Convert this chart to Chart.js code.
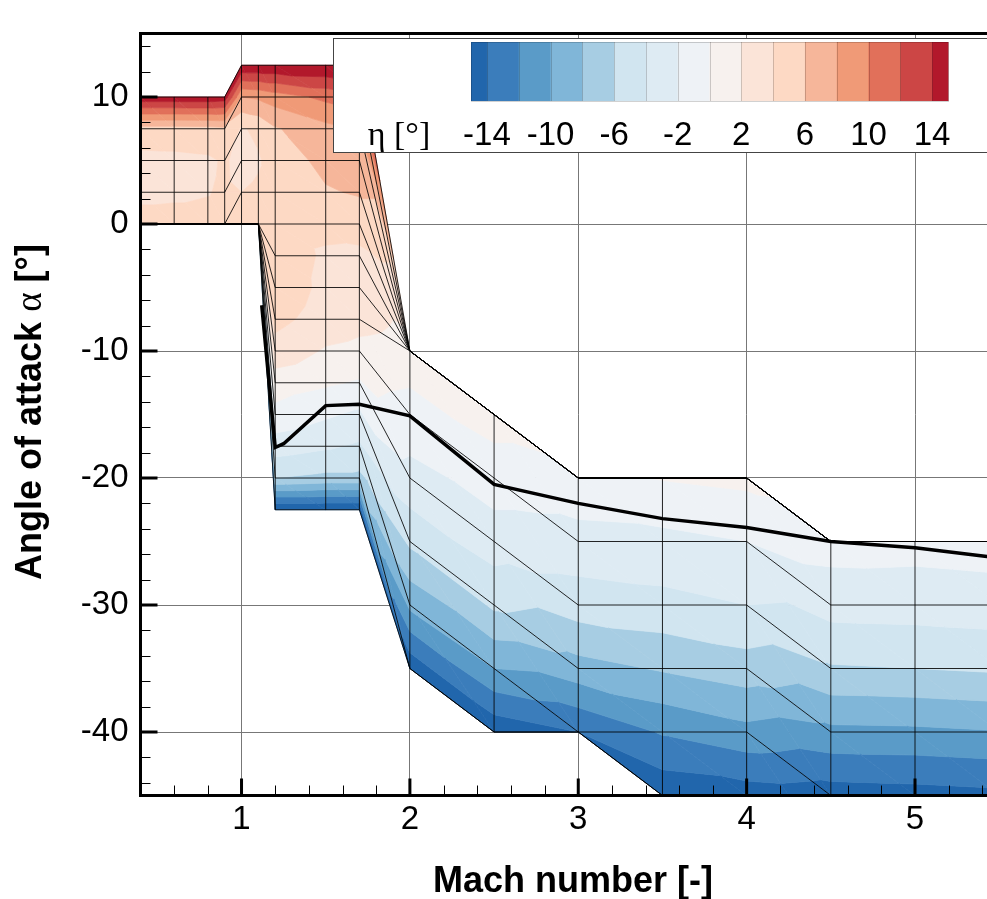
<!DOCTYPE html>
<html>
<head>
<meta charset="utf-8">
<script src="https://cdn.jsdelivr.net/npm/chart.js@4.4.0/dist/chart.umd.min.js"></script>
<style>
  html, body { margin: 0; padding: 0; background: #fff; overflow: hidden; }
  #wrap { position: relative; width: 1020px; height: 899px; }
</style>
</head>
<body>
<div id="wrap"><canvas id="chart" width="1020" height="899"></canvas></div>
<script>
// Mach stations of the (structured) grid
var machCols = [0.4, 0.6, 0.8, 0.9, 1.0, 1.1, 1.2, 1.5, 1.7, 2.0, 2.5, 3.0, 3.5, 4.0, 4.5, 5.0, 5.5];

// angle of attack of the 15 grid nodes at each Mach station (top to bottom)
var alphaNodes = [
  [10, 7.5, 5, 2.5, 0, 0, 0, 0, 0, 0, 0, 0, 0, 0, 0],
  [10, 7.5, 5, 2.5, 0, 0, 0, 0, 0, 0, 0, 0, 0, 0, 0],
  [10, 7.5, 5, 2.5, 0, 0, 0, 0, 0, 0, 0, 0, 0, 0, 0],
  [10, 7.5, 5, 2.5, 0, 0, 0, 0, 0, 0, 0, 0, 0, 0, 0],
  [12.5, 10, 7.5, 5, 2.5, 0, 0, 0, 0, 0, 0, 0, 0, 0, 0],
  [12.5, 10, 7.5, 5, 2.5, 0, 0, 0, 0, 0, 0, 0, 0, 0, 0],
  [12.5, 10, 7.5, 5, 2.5, 0, -2.5, -5, -7.5, -10, -12.5, -15, -17.5, -20, -22.5],
  [12.5, 10, 7.5, 5, 2.5, 0, -2.5, -5, -7.5, -10, -12.5, -15, -17.5, -20, -22.5],
  [12.5, 10, 7.5, 5, 2.5, 0, -2.5, -5, -7.5, -10, -12.5, -15, -17.5, -20, -22.5],
  [-10, -10, -10, -10, -10, -10, -10, -10, -10, -15, -20, -25, -30, -35, -35],
  [-15, -15, -15, -15, -15, -15, -15, -15, -15, -20, -25, -30, -35, -40, -40],
  [-20, -20, -20, -20, -20, -20, -20, -20, -20, -25, -30, -35, -40, -40, -40],
  [-20, -20, -20, -20, -20, -20, -20, -20, -20, -25, -30, -35, -40, -45, -45],
  [-20, -20, -20, -20, -20, -20, -20, -20, -20, -25, -30, -35, -40, -45, -45],
  [-25, -25, -25, -25, -25, -25, -25, -25, -25, -30, -35, -40, -45, -50, -50],
  [-25, -25, -25, -25, -25, -25, -25, -25, -25, -30, -35, -40, -45, -50, -50],
  [-25, -25, -25, -25, -25, -25, -25, -25, -25, -30, -35, -40, -45, -50, -50]
];

// eta [deg] at the same nodes
var etaNodes = [
  [15.5, 5.2, 3.4, 3.6, 4.6, 4.6, 4.6, 4.6, 4.6, 4.6, 4.6, 4.6, 4.6, 4.6, 4.6],
  [15.5, 5.2, 3.5, 3.7, 4.6, 4.6, 4.6, 4.6, 4.6, 4.6, 4.6, 4.6, 4.6, 4.6, 4.6],
  [15.5, 5.3, 3.7, 3.9, 4.6, 4.6, 4.6, 4.6, 4.6, 4.6, 4.6, 4.6, 4.6, 4.6, 4.6],
  [15.2, 5.5, 4.2, 4.3, 4.7, 4.7, 4.7, 4.7, 4.7, 4.7, 4.7, 4.7, 4.7, 4.7, 4.7],
  [15.8, 8.0, 3.8, 3.4, 4.0, 4.8, 4.8, 4.8, 4.8, 4.8, 4.8, 4.8, 4.8, 4.8, 4.8],
  [15.8, 8.3, 4.4, 3.8, 4.3, 4.8, 5.2, 5.3, 4.6, 3.2, 1.0, -0.6, -3.0, -6.0, -16],
  [15.8, 9.0, 5.8, 4.8, 4.9, 5.0, 5.2, 5.3, 4.6, 3.2, 1.0, -0.6, -3.0, -6.0, -16],
  [16.0, 10.5, 7.4, 6.6, 5.8, 4.6, 3.7, 3.5, 3.1, 1.8, 0.3, -1.7, -3.7, -6.5, -16],
  [16.0, 11.5, 8.2, 7.2, 6.2, 4.8, 3.6, 3.2, 2.6, 1.5, -0.2, -2.4, -4.3, -6.5, -16],
  [1.2, 1.2, 1.2, 1.2, 1.2, 1.2, 1.2, 1.2, 1.2, -0.9, -2.6, -5.6, -9.5, -15.5, -15.5],
  [0.8, 0.8, 0.8, 0.8, 0.8, 0.8, 0.8, 0.8, 0.8, -1.0, -3.0, -5.6, -10.0, -15.5, -15.5],
  [-0.5, -0.5, -0.5, -0.5, -0.5, -0.5, -0.5, -0.5, -0.5, -2.8, -5.0, -8.8, -14, -14, -14],
  [0.1, 0.1, 0.1, 0.1, 0.1, 0.1, 0.1, 0.1, 0.1, -2.6, -4.6, -7.8, -11.8, -15.5, -15.5],
  [0.5, 0.5, 0.5, 0.5, 0.5, 0.5, 0.5, 0.5, 0.5, -2.0, -4.0, -6.9, -10.6, -15.0, -15.0],
  [-1.2, -1.2, -1.2, -1.2, -1.2, -1.2, -1.2, -1.2, -1.2, -3.2, -6.2, -10.5, -15.0, -19, -19],
  [-1.3, -1.3, -1.3, -1.3, -1.3, -1.3, -1.3, -1.3, -1.3, -3.1, -6.0, -10.4, -14.8, -19, -19],
  [-1.1, -1.1, -1.1, -1.1, -1.1, -1.1, -1.1, -1.1, -1.1, -2.9, -5.7, -10.1, -14.5, -19, -19]
];

// contour levels and band colours
var levels = [-14, -12, -10, -8, -6, -4, -2, 0, 2, 4, 6, 8, 10, 12, 14];
var bandColors = ['#2166ac', '#3b7dbb', '#5a9bc8', '#80b6d8', '#a7cde3', '#d1e5f0', '#deebf3', '#eef2f6',
                  '#f7f1ee', '#fbe4d8', '#fdd9c4', '#f6b69a', '#f09a77', '#e1705a', '#cc4645', '#b2182b'];
var barLabels = [-14, -10, -6, -2, 2, 6, 10, 14];

// thick black line
var trimMach = [1.12, 1.2, 1.25, 1.5, 1.7, 2.0, 2.5, 3.0, 3.5, 4.0, 4.5, 5.0, 5.5];
var trimAlpha = [-6.4, -17.6, -17.3, -14.3, -14.2, -15.1, -20.5, -22.0, -23.2, -23.9, -25.0, -25.5, -26.3];

var xTicks = [1, 2, 3, 4, 5];
var yTicks = [10, 0, -10, -20, -30, -40];

var sansFont = "'Liberation Sans', Arial, sans-serif";
var serifFont = "'Liberation Serif', 'DejaVu Serif', serif";

function clipPoly(poly, lvl, keepAbove) {
  var out = [];
  for (var i = 0; i < poly.length; i++) {
    var a = poly[i], b = poly[(i + 1) % poly.length];
    var ina = keepAbove ? a.v >= lvl : a.v <= lvl;
    var inb = keepAbove ? b.v >= lvl : b.v <= lvl;
    if (ina) out.push(a);
    if (ina !== inb) {
      var t = (lvl - a.v) / (b.v - a.v);
      out.push({x: a.x + t * (b.x - a.x), y: a.y + t * (b.y - a.y), v: lvl});
    }
  }
  return out;
}

function fillTri(ctx, tri) {
  var area = Math.abs((tri[1].x - tri[0].x) * (tri[2].y - tri[0].y) - (tri[2].x - tri[0].x) * (tri[1].y - tri[0].y));
  if (area < 0.5) return;
  var vmin = Math.min(tri[0].v, tri[1].v, tri[2].v), vmax = Math.max(tri[0].v, tri[1].v, tri[2].v);
  for (var b = 0; b < bandColors.length; b++) {
    var lo = b === 0 ? -Infinity : levels[b - 1];
    var hi = b === levels.length ? Infinity : levels[b];
    if (vmax < lo || vmin > hi) continue;
    var poly = tri;
    if (lo > -Infinity) poly = clipPoly(poly, lo, true);
    if (poly.length > 2 && hi < Infinity) poly = clipPoly(poly, hi, false);
    if (poly.length < 3) continue;
    ctx.beginPath();
    ctx.moveTo(poly[0].x, poly[0].y);
    for (var j = 1; j < poly.length; j++) ctx.lineTo(poly[j].x, poly[j].y);
    ctx.closePath();
    ctx.fillStyle = bandColors[b];
    ctx.strokeStyle = bandColors[b];
    ctx.fill();
    ctx.stroke();
  }
}

var contourPlugin = {
  id: 'contour',
  beforeDatasetsDraw: function(chart) {
    var ctx = chart.ctx, xs = chart.scales.x, ys = chart.scales.y, a = chart.chartArea;
    function node(i, k) {
      return {x: xs.getPixelForValue(machCols[i]), y: ys.getPixelForValue(alphaNodes[i][k]), v: etaNodes[i][k]};
    }
    ctx.save();
    ctx.beginPath();
    ctx.rect(a.left, a.top, a.right - a.left, a.bottom - a.top);
    ctx.clip();
    ctx.lineWidth = 0.7;
    ctx.lineJoin = 'round';
    for (var i = 0; i < machCols.length - 1; i++) {
      for (var k = 0; k < alphaNodes[i].length - 1; k++) {
        var p00 = node(i, k), p10 = node(i + 1, k), p11 = node(i + 1, k + 1), p01 = node(i, k + 1);
        fillTri(ctx, [p00, p10, p11]);
        fillTri(ctx, [p00, p11, p01]);
      }
    }
    // mesh lines
    ctx.strokeStyle = 'rgba(0,0,0,0.85)';
    ctx.lineWidth = 1;
    ctx.beginPath();
    for (var i = 0; i < machCols.length; i++) {
      var last = alphaNodes[i].length - 1;
      var top = node(i, 0), bot = node(i, last);
      ctx.moveTo(top.x, top.y);
      ctx.lineTo(bot.x, bot.y);
      if (i < machCols.length - 1) {
        for (var k = 0; k <= last; k++) {
          var p = node(i, k), q = node(i + 1, k);
          ctx.moveTo(p.x, p.y);
          ctx.lineTo(q.x, q.y);
        }
      }
    }
    ctx.stroke();
    ctx.restore();
  }
};

var framePlugin = {
  id: 'frame',
  afterDraw: function(chart) {
    var ctx = chart.ctx, xs = chart.scales.x, ys = chart.scales.y, a = chart.chartArea;
    ctx.save();
    // minor / major ticks, pointing inward
    ctx.strokeStyle = '#000';
    ctx.lineWidth = 1;
    ctx.beginPath();
    for (var m = 6; m <= 54; m += 2) {
      var v = m / 10;
      if (m % 10 === 0) continue;
      var px = Math.round(xs.getPixelForValue(v)) + 0.5;
      ctx.moveTo(px, a.bottom);
      ctx.lineTo(px, a.bottom - 10);
    }
    for (var n = -44; n <= 14; n += 2) {
      if (n % 10 === 0) continue;
      var py = Math.round(ys.getPixelForValue(n)) + 0.5;
      ctx.moveTo(a.left, py);
      ctx.lineTo(a.left + 10, py);
    }
    ctx.stroke();
    ctx.lineWidth = 3;
    ctx.beginPath();
    xTicks.forEach(function(v) {
      var px = xs.getPixelForValue(v);
      ctx.moveTo(px, a.bottom);
      ctx.lineTo(px, a.bottom - 17);
    });
    yTicks.forEach(function(v) {
      var py = ys.getPixelForValue(v);
      ctx.moveTo(a.left, py);
      ctx.lineTo(a.left + 17, py);
    });
    ctx.stroke();
    // axis frame
    ctx.lineWidth = 3;
    ctx.beginPath();
    ctx.moveTo(a.right + 30, a.top);
    ctx.lineTo(a.left, a.top);
    ctx.lineTo(a.left, a.bottom);
    ctx.lineTo(a.right + 30, a.bottom);
    ctx.stroke();

    // legend box with colour bar
    ctx.fillStyle = '#fff';
    ctx.fillRect(333, 38, 720, 114);
    ctx.strokeStyle = '#444';
    ctx.lineWidth = 1;
    ctx.strokeRect(333.5, 38.5, 720, 114);
    var bx0 = 471, bx1 = 948, by0 = 42, by1 = 101, vmin = -15, vmax = 15;
    function bx(v) { return bx0 + (v - vmin) / (vmax - vmin) * (bx1 - bx0); }
    for (var b = 0; b < bandColors.length; b++) {
      var lo = b === 0 ? vmin : levels[b - 1];
      var hi = b === levels.length ? vmax : levels[b];
      ctx.fillStyle = bandColors[b];
      ctx.fillRect(bx(lo), by0, bx(hi) - bx(lo) + 0.5, by1 - by0);
    }
    ctx.strokeStyle = 'rgba(0,0,0,0.18)';
    ctx.beginPath();
    levels.forEach(function(l) {
      var px = Math.round(bx(l)) + 0.5;
      ctx.moveTo(px, by0);
      ctx.lineTo(px, by1);
    });
    ctx.rect(bx0 + 0.5, by0 + 0.5, bx1 - bx0, by1 - by0);
    ctx.stroke();
    ctx.fillStyle = '#000';
    ctx.font = '33px ' + sansFont;
    ctx.textAlign = 'center';
    ctx.textBaseline = 'alphabetic';
    barLabels.forEach(function(l) {
      ctx.fillText(String(l), bx(l), 145);
    });
    ctx.font = '34px ' + serifFont;
    ctx.fillText('\u03B7 [\u00B0]', 399, 145);

    // axis titles
    ctx.textAlign = 'center';
    ctx.font = 'bold 36px ' + sansFont;
    ctx.fillText('Mach number [-]', 573, 892);

    var parts = [['Angle of attack ', 'bold 36px ' + sansFont], ['\u03B1', '37px ' + serifFont], [' [\u00B0]', 'bold 36px ' + sansFont]];
    var total = 0;
    parts.forEach(function(p) { ctx.font = p[1]; p.push(ctx.measureText(p[0]).width); total += p[2]; });
    ctx.translate(41, 412);
    ctx.rotate(-Math.PI / 2);
    ctx.textAlign = 'left';
    var xpos = -total / 2;
    parts.forEach(function(p) { ctx.font = p[1]; ctx.fillText(p[0], xpos, 0); xpos += p[2]; });
    ctx.restore();
  }
};

var trimData = trimMach.map(function(m, i) { return {x: m, y: trimAlpha[i]}; });

new Chart(document.getElementById('chart'), {
  type: 'scatter',
  data: {
    datasets: [{
      data: trimData,
      showLine: true,
      borderColor: '#000',
      borderWidth: 3.5,
      pointRadius: 0,
      tension: 0
    }]
  },
  options: {
    responsive: false,
    animation: false,
    devicePixelRatio: 1,
    layout: { padding: { left: 0, top: 33.5, right: 20.8, bottom: 0 } },
    plugins: { legend: { display: false }, tooltip: { enabled: false } },
    scales: {
      x: {
        type: 'linear', min: 0.4, max: 5.5,
        afterBuildTicks: function(s) { s.ticks = xTicks.map(function(v) { return {value: v}; }); },
        afterFit: function(s) { s.height = 103.5; },
        grid: { color: '#777', lineWidth: 1, drawTicks: false },
        border: { display: false },
        ticks: { font: { family: sansFont, size: 33 }, color: '#000', padding: 5, maxRotation: 0, autoSkip: false }
      },
      y: {
        type: 'linear', min: -45, max: 15,
        afterBuildTicks: function(s) { s.ticks = yTicks.map(function(v) { return {value: v}; }); },
        afterFit: function(s) { s.width = 140.5; },
        grid: { color: '#777', lineWidth: 1, drawTicks: false },
        border: { display: false },
        ticks: { font: { family: sansFont, size: 33 }, color: '#000', padding: 12 }
      }
    }
  },
  plugins: [contourPlugin, framePlugin]
});
</script>
</body>
</html>
